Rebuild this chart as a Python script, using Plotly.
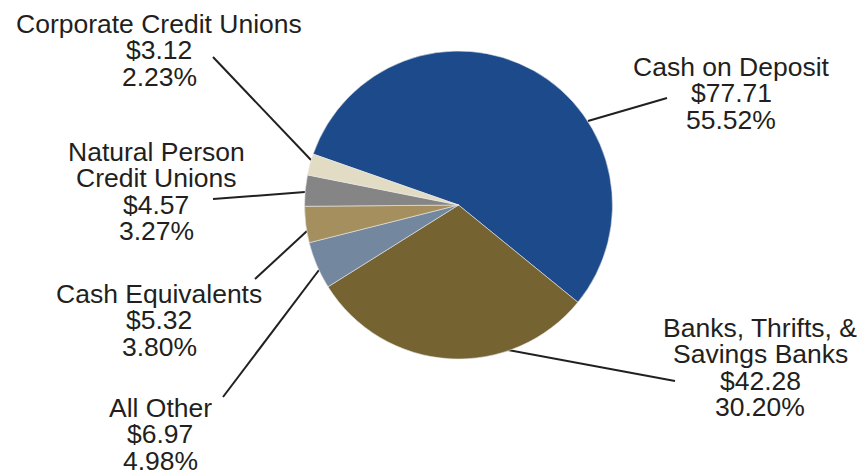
import plotly.graph_objects as go

W, H = 861, 471

# data (clockwise from the top-left boundary)
categories = ["Cash on Deposit", "Banks, Thrifts, &<br>Savings Banks", "All Other",
              "Cash Equivalents", "Natural Person<br>Credit Unions", "Corporate Credit Unions"]
amounts = [77.71, 42.28, 6.97, 5.32, 4.57, 3.12]
percents = [55.52, 30.20, 4.98, 3.80, 3.27, 2.23]
colors = ["#1c4a8a", "#766332", "#73879f", "#a58f5f", "#858585", "#e2dcc4"]

# label layout in pixels: (centre x, first baseline y)
label_pos = [(731, 76), (760, 337), (160, 417), (159, 303), (156, 161), (159, 33)]
# leader lines in pixels: outer end, pie end
leaders = [((667, 98), (588, 121)), ((675, 381), (508, 350)), ((223, 397), (319, 270)),
           ((255, 279), (307, 231)), ((213, 199), (305, 192)), ((213, 57), (311, 160))]

FONT = "Liberation Sans, Arial, Helvetica, sans-serif"
FS = 26.5
LINE_H = 26.3
TXT = "#231f20"


def px(x, y):
    return x / W, 1 - y / H


cx, cy, r = 458.5, 205, 154

fig = go.Figure(go.Pie(
    labels=categories, values=amounts, sort=False, direction="clockwise",
    rotation=-70.7, textinfo="none", hoverinfo="label+value",
    marker=dict(colors=colors, line=dict(color="#e8e8e8", width=0.6)),
    domain=dict(x=[(cx - r) / W, (cx + r) / W], y=[1 - (cy + r) / H, 1 - (cy - r) / H]),
    showlegend=False,
))

annotations = []
for name, amt, pct, (lx, ly) in zip(categories, amounts, percents, label_pos):
    lines = name.split("<br>") + [f"${amt:.2f}", f"{pct:.2f}%"]
    for i, t in enumerate(lines):
        x, y = px(lx, ly + i * LINE_H - 9)
        annotations.append(dict(
            x=x, y=y, xref="paper", yref="paper", text=t, showarrow=False,
            xanchor="center", yanchor="middle",
            font=dict(family=FONT, size=FS, color=TXT),
        ))

shapes = []
for (x0, y0), (x1, y1) in leaders:
    a0, b0 = px(x0, y0)
    a1, b1 = px(x1, y1)
    shapes.append(dict(type="line", xref="paper", yref="paper", x0=a0, y0=b0, x1=a1, y1=b1,
                       line=dict(color=TXT, width=2), layer="below"))

fig.update_layout(
    width=W, height=H, margin=dict(l=0, r=0, t=0, b=0),
    paper_bgcolor="white", plot_bgcolor="white",
    annotations=annotations, shapes=shapes,
)

fig.write_html("out.html", config={"displayModeBar": False},
               post_script="document.body.style.margin='0';")
